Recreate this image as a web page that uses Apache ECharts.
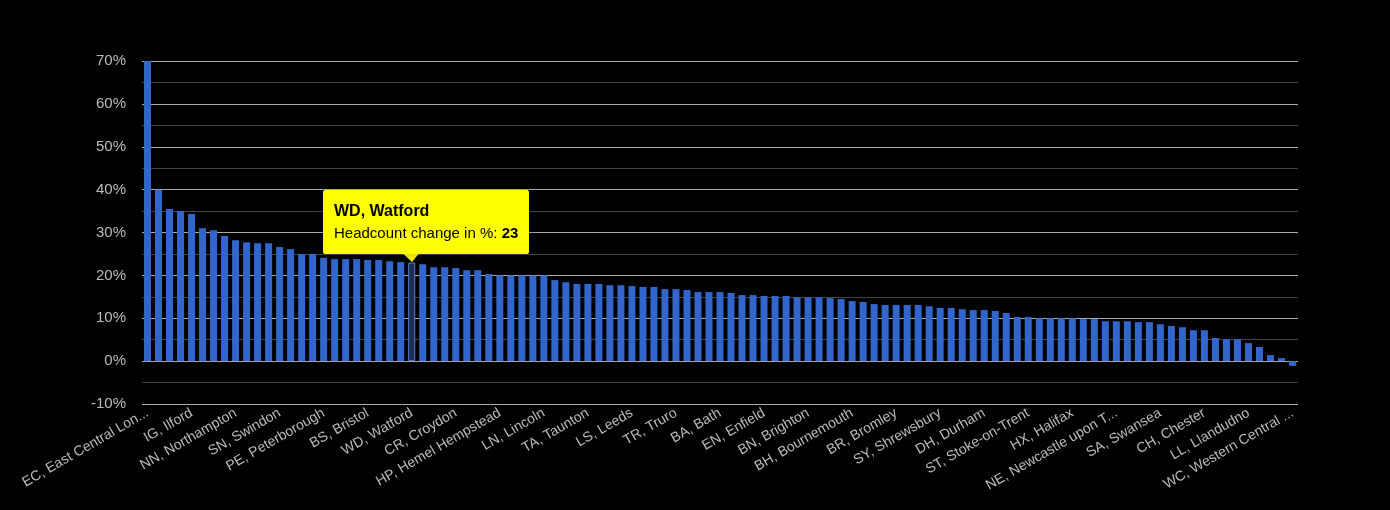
<!DOCTYPE html>
<html><head><meta charset="utf-8">
<script src="https://cdn.jsdelivr.net/npm/echarts@6/dist/echarts.min.js"></script>
<style>html,body{margin:0;background:#000}#c{width:1390px;height:510px}</style></head>
<body><div id="c"></div>
<script>
const categories = ["EC, East Central London","E, East London","IG, Ilford","N, North London","SE, South East London","NN, Northampton","RM, Romford","UB, Southall","MK, Milton Keynes","SN, Swindon","SL, Slough","LU, Luton","OX, Oxford","PE, Peterborough","EN2, Barnet","CB, Cambridge","BS, Bristol","SG, Stevenage","AL, St Albans","NW, North West London","GU, Guildford","TW, Twickenham","KT, Kingston upon Thames","RG, Reading","WD, Watford","DA, Dartford","CR, Croydon","SM, Sutton","BR2, Orpington","CM, Chelmsford","HP, Hemel Hempstead","CO, Colchester","SS, Southend-on-Sea","LN, Lincoln","NG, Nottingham","LE, Leicester","TA, Taunton","EX, Exeter","PL, Plymouth","LS, Leeds","M, Manchester","B, Birmingham","TR, Truro","BA, Bath","GL, Gloucester","CV, Coventry","EN, Enfield","ME, Medway","TN, Tonbridge","BN, Brighton","PO, Portsmouth","SO, Southampton","RH, Redhill","BH, Bournemouth","DT, Dorchester","SP, Salisbury","BR, Bromley","HA, Harrow","WR, Worcester","SY, Shrewsbury","HR, Hereford","TF, Telford","DH, Durham","DL, Darlington","TS, Cleveland","ST, Stoke-on-Trent","WS, Walsall","WV, Wolverhampton","HX, Halifax","HD, Huddersfield","BD, Bradford","NE, Newcastle upon Tyne","SR, Sunderland","CA, Carlisle","SA, Swansea","CF, Cardiff","NP, Newport","CH, Chester","WA, Warrington","CW, Crewe","LL, Llandudno","SK, Stockport","OL, Oldham","WC, Western Central London","YO, York","HU, Hull","DN, Doncaster","S, Sheffield","DE, Derby","NR, Norwich","IP, Ipswich","CT, Canterbury","TQ, Torquay","BB, Blackburn","PR, Preston","FY, Blackpool","LA, Lancaster","L, Liverpool","BL, Bolton","WN, Wigan","HG, Harrogate","WF, Wakefield","LD, Llandrindod Wells","SW, South West London","W, West London"];
const values = [70,40,35.5,35,34.3,31,30.5,29.2,28.2,27.7,27.5,27.5,26.6,26.1,25,25,24.1,23.8,23.8,23.8,23.6,23.6,23.3,23.1,23,22.6,21.9,21.9,21.7,21.2,21.2,20.3,20,20,20,20,20,18.9,18.4,18,18,18,17.7,17.7,17.5,17.3,17.3,16.8,16.8,16.6,16.1,16.1,16.1,15.9,15.4,15.4,15.2,15.2,15.2,14.9,14.9,14.9,14.7,14.5,14,13.8,13.3,13.1,13.1,13.1,13.1,12.8,12.4,12.4,12.1,11.9,11.9,11.7,11.2,10.3,10.3,10,10,10,10,9.8,9.8,9.3,9.3,9.3,9.1,9.1,8.6,8.2,7.9,7.2,7.2,5.4,5.1,5.1,4.2,3.3,1.4,0.7,-1.1];
const shown = ["EC, East Central London","IG, Ilford","NN, Northampton","SN, Swindon","PE, Peterborough","BS, Bristol","WD, Watford","CR, Croydon","HP, Hemel Hempstead","LN, Lincoln","TA, Taunton","LS, Leeds","TR, Truro","BA, Bath","EN, Enfield","BN, Brighton","BH, Bournemouth","BR, Bromley","SY, Shrewsbury","DH, Durham","ST, Stoke-on-Trent","HX, Halifax","NE, Newcastle upon Tyne","SA, Swansea","CH, Chester","LL, Llandudno","WC, Western Central London"];
const pool = categories.filter(c => !shown.includes(c));
const cats = [];
let p = 0;
for (let i = 0; i < values.length; i++) cats.push(i % 4 === 0 ? shown[i/4] : pool[p++]);
const highlight = 24;
const F = 'Liberation Sans, Arial';
const chart = echarts.init(document.getElementById('c'));
chart.setOption({
  backgroundColor:'#000',
  animation:false,
  grid:{left:142,right:92,top:61,bottom:106},
  xAxis:{type:'category',data:cats,
    axisLine:{show:false},axisTick:{show:false},
    axisLabel:{interval:3,rotate:30,color:'#bbb',fontSize:14,fontFamily:F,width:152,overflow:'truncate',margin:8}},
  yAxis:{type:'value',min:-10,max:70,interval:10,
    axisLabel:{formatter:'{value}%',color:'#bbb',fontSize:15,fontFamily:F,margin:16},
    splitLine:{lineStyle:{color:'#aaa',width:1}},
    minorTick:{show:false,splitNumber:2},
    minorSplitLine:{show:true,lineStyle:{color:'#444'}}},
  tooltip:{trigger:'item',alwaysShowContent:true,backgroundColor:'#ffff00',borderColor:'#ffff00',padding:[9,10],
    textStyle:{color:'#000',fontSize:15,fontFamily:F},
    extraCssText:'line-height:22px;border-radius:2px;',
    position:[323,190],
    formatter:pa=>'<b style="font-size:16px">'+pa.name+'</b><br/>Headcount change in %: <b>'+pa.value+'</b>'},
  series:[{type:'bar',barWidth:7,data:values.map((v,i)=>i===highlight?{value:v,itemStyle:{color:'#1a2d55',borderColor:'#5a7fd0',borderWidth:1}}:v),
    itemStyle:{color:'#3366cc'}}],
  graphic:[{type:'polygon',shape:{points:[[395,246],[425,246],[412,262]]},style:{fill:'#ffff00'},z:100}]
});
chart.dispatchAction({type:'showTip',seriesIndex:0,dataIndex:highlight});
</script></body></html>
